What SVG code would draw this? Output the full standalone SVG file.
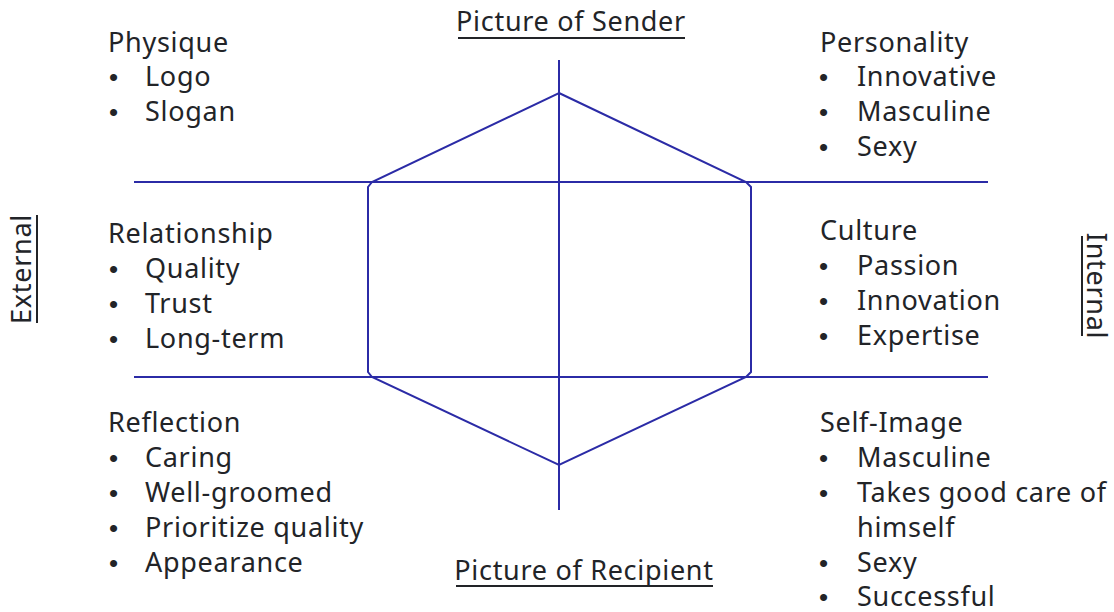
<svg xmlns="http://www.w3.org/2000/svg" width="1114" height="612" viewBox="0 0 1114 612">
  <style>
    text { font-family: "Noto Sans", "Open Sans", sans-serif; font-size: 27px; letter-spacing: 0.7px; fill: #222428; }
    .b { font-family: "Liberation Sans", sans-serif; font-size: 26px; letter-spacing: 0; }
    .ax { stroke: #2b2ba6; stroke-width: 2; fill: none; }
    .ul { stroke: #222428; stroke-width: 2; }
  </style>
  <rect width="1114" height="612" fill="#ffffff"/>

  <!-- axes and hexagon -->
  <g id="connectors">
    <line class="ax" x1="134" y1="182" x2="988" y2="182"/>
    <line class="ax" x1="134" y1="377" x2="988" y2="377"/>
    <line class="ax" x1="559" y1="60" x2="559" y2="510"/>
    <polygon class="ax" points="559,93 746,182 751,187 751,372 746,377 559,465 372,377 368,372 368,187 372,182"/>
  </g>

  <g id="sender">
    <text x="571" y="31" text-anchor="middle">Picture of Sender</text>
    <line class="ul" x1="458" y1="38" x2="685" y2="38"/>
  </g>
  <g id="recipient">
    <text x="584" y="580" text-anchor="middle">Picture of Recipient</text>
    <line class="ul" x1="456" y1="586" x2="713" y2="586"/>
  </g>
  <g id="external">
    <text transform="translate(31,269) rotate(-90)" text-anchor="middle">External</text>
    <line class="ul" x1="37" y1="215" x2="37" y2="323"/>
  </g>
  <g id="internal">
    <text transform="translate(1087,286) rotate(90)" text-anchor="middle">Internal</text>
    <line class="ul" x1="1082" y1="236" x2="1082" y2="336"/>
  </g>

  <g id="physique">
    <text x="108" y="52">Physique</text>
    <text class="b" x="109" y="86">•</text><text x="145" y="86">Logo</text>
    <text class="b" x="109" y="121">•</text><text x="145" y="121">Slogan</text>
  </g>
  <g id="personality">
    <text x="820" y="52">Personality</text>
    <text class="b" x="819" y="86">•</text><text x="857" y="86">Innovative</text>
    <text class="b" x="819" y="121">•</text><text x="857" y="121">Masculine</text>
    <text class="b" x="819" y="156">•</text><text x="857" y="156">Sexy</text>
  </g>
  <g id="relationship">
    <text x="108" y="243">Relationship</text>
    <text class="b" x="109" y="278">•</text><text x="145" y="278">Quality</text>
    <text class="b" x="109" y="313">•</text><text x="145" y="313">Trust</text>
    <text class="b" x="109" y="348">•</text><text x="145" y="348">Long-term</text>
  </g>
  <g id="culture">
    <text x="820" y="240">Culture</text>
    <text class="b" x="819" y="275">•</text><text x="857" y="275">Passion</text>
    <text class="b" x="819" y="310">•</text><text x="857" y="310">Innovation</text>
    <text class="b" x="819" y="345">•</text><text x="857" y="345">Expertise</text>
  </g>
  <g id="reflection">
    <text x="108" y="432">Reflection</text>
    <text class="b" x="109" y="467">•</text><text x="145" y="467">Caring</text>
    <text class="b" x="109" y="502">•</text><text x="145" y="502">Well-groomed</text>
    <text class="b" x="109" y="537">•</text><text x="145" y="537">Prioritize quality</text>
    <text class="b" x="109" y="572">•</text><text x="145" y="572">Appearance</text>
  </g>
  <g id="self-image">
    <text x="820" y="432">Self-Image</text>
    <text class="b" x="819" y="467">•</text><text x="857" y="467">Masculine</text>
    <text class="b" x="819" y="502">•</text><text x="857" y="502">Takes good care of</text>
    <text x="857" y="537">himself</text>
    <text class="b" x="819" y="572">•</text><text x="857" y="572">Sexy</text>
    <text class="b" x="819" y="606">•</text><text x="857" y="606">Successful</text>
  </g>
</svg>
